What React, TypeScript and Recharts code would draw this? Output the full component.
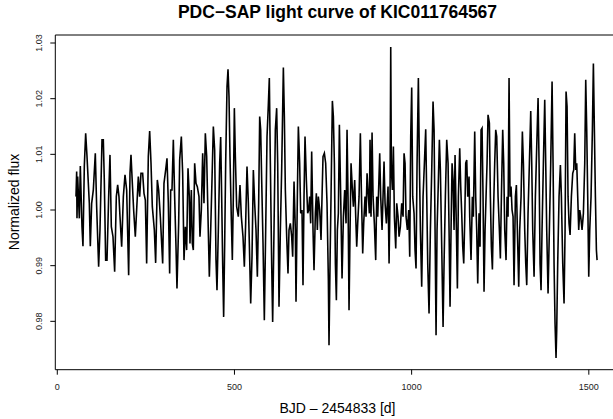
import { LineChart, Line, XAxis, YAxis, ReferenceArea } from 'recharts';

// BJD - 2454833 [d] vs normalized PDC-SAP flux
const xTicks = [0, 500, 1000, 1500];
const yTicks = [0.98, 0.99, 1.0, 1.01, 1.02, 1.03];

const quarterA: [number, number][] = [
  [52.8, 1.0024], [54.7, 1.0069], [55.6, 0.9985], [57.5, 1.006], [62.2, 0.9985], [65.0, 1.0079],
  [69.7, 0.997], [72.5, 0.9935], [76.3, 1.0079], [80.1, 1.0138], [83.8, 1.0097], [87.6, 1.0048],
  [90.4, 1.0012], [93.2, 0.9935], [97.0, 1.0012], [101.7, 1.0036], [107.3, 1.0102], [111.1, 1.0006],
  [116.7, 0.9898], [120.5, 0.9964], [126.2, 1.0126], [129.9, 1.0126], [132.7, 1.0054], [136.5, 0.991],
  [140.3, 0.991], [145.0, 1.0024], [148.7, 1.0099], [152.5, 0.997], [157.2, 0.9952], [161.9, 0.9889],
  [166.6, 1.0024], [170.4, 1.0045], [174.1, 1.0024], [177.0, 0.9988], [181.7, 0.9934], [186.4, 1.0024],
  [191.1, 1.0063], [195.8, 1.0036], [201.4, 0.9883], [205.2, 1.0066], [208.0, 1.0099], [211.8, 1.0048],
  [215.5, 1.0], [220.2, 0.9952], [224.9, 1.0012], [228.7, 1.006], [232.5, 1.0024], [236.2, 1.0066],
  [240.9, 1.0066], [244.7, 1.003], [248.5, 1.0018], [252.2, 0.9904], [256.9, 1.0096], [260.7, 1.0142],
  [264.5, 1.0084], [268.2, 1.0006], [273.9, 0.9964], [277.6, 0.9905], [282.3, 1.0054], [286.1, 1.0036],
  [290.8, 0.9988], [297.4, 0.9904], [301.1, 1.0048], [305.9, 1.0072], [309.6, 1.0093], [313.4, 1.0012],
  [317.1, 0.9886], [320.0, 1.0036], [323.7, 1.0036], [327.5, 1.0126], [331.2, 1.0024], [335.0, 0.9934],
  [337.8, 0.9859], [342.5, 0.9976], [345.4, 1.009], [350.1, 1.0132], [353.8, 1.0066], [357.6, 0.991],
  [361.3, 0.997], [365.1, 0.9928], [368.9, 1.0075], [372.6, 1.0024],
];

const quarterB: [number, number][] = [
  [374.5, 0.994], [378.3, 1.0036], [381.1, 0.994], [383.9, 0.9928], [387.7, 1.0084], [391.5, 1.0048],
  [395.2, 1.0042], [399.9, 1.0024], [402.7, 0.9952], [406.5, 1.0], [410.3, 1.0102], [414.0, 1.0012],
  [417.8, 1.0138], [421.6, 1.0096], [425.3, 0.9988], [429.1, 0.988], [432.9, 0.9964], [436.6, 1.0054],
  [440.4, 1.015], [444.1, 1.0108], [447.9, 0.991], [450.7, 0.9856], [454.5, 0.9964], [458.3, 1.0084],
  [461.1, 1.0131], [463.9, 1.0024], [466.7, 0.9904], [469.5, 0.9808], [472.4, 0.994], [475.2, 1.0084],
  [479.0, 1.0222], [481.8, 1.0253], [484.6, 1.0204], [487.4, 1.0096], [491.2, 0.9982], [494.0, 0.991],
  [496.8, 1.0024], [499.7, 1.0183], [502.5, 1.0096], [506.2, 1.0006], [510.9, 0.9988], [515.6, 1.0045],
  [519.4, 0.9988], [524.1, 0.9952], [527.9, 0.9898], [531.6, 0.9976], [535.4, 1.0078], [539.2, 1.0012],
  [542.0, 0.994], [545.8, 0.9832], [549.5, 0.9916], [553.3, 1.0072], [557.0, 1.0012], [560.8, 0.9964],
  [564.6, 0.988], [568.3, 1.0012], [571.2, 1.0168], [574.0, 1.0144], [576.8, 1.0054], [580.6, 0.994],
  [584.3, 0.9802], [588.1, 0.9964], [591.9, 1.0132], [595.6, 1.0189], [598.4, 1.0237], [601.3, 1.0084],
  [605.0, 0.9904], [607.8, 0.9799], [611.6, 0.9964], [615.4, 1.0144], [619.1, 1.0183], [622.0, 1.0084],
  [625.7, 0.9826], [629.5, 0.9964], [633.2, 1.0072], [638.0, 1.0256], [640.8, 1.0168], [643.6, 1.0036],
  [647.4, 0.9952], [651.1, 0.9886], [653.9, 0.9964], [657.7, 0.9976], [661.5, 0.9952], [664.3, 0.9916],
  [668.1, 1.0051], [671.8, 0.9964], [673.7, 0.9835], [677.5, 1.0024], [680.3, 1.015], [684.0, 1.0084],
  [686.9, 0.9994], [690.6, 1.0], [693.4, 0.9865], [696.3, 1.0024], [699.1, 1.0132], [702.9, 1.0054],
  [706.6, 0.9994], [709.4, 1.0], [712.3, 1.0024], [715.1, 0.9976], [717.9, 1.0105], [721.7, 0.9964],
  [724.5, 0.9892], [728.3, 0.9994], [731.1, 1.003], [733.9, 0.9964], [736.7, 1.0024], [740.5, 1.0],
  [744.3, 0.9946], [747.1, 1.0024], [749.9, 1.0096], [753.7, 1.0102], [757.4, 1.0084], [761.2, 1.0012],
  [765.0, 0.9874], [766.8, 0.9757],
];

const quarterC: [number, number][] = [
  [769.7, 0.9904], [772.5, 1.0024], [776.3, 1.0196], [779.1, 1.0168], [782.0, 1.0084], [784.8, 0.9904],
  [787.6, 0.9838], [790.4, 0.9964], [793.2, 0.9994], [796.1, 1.0153], [799.8, 1.0024], [803.6, 0.9877],
  [807.4, 0.9988], [811.1, 1.0036], [814.9, 0.9976], [817.7, 1.0144], [820.5, 1.0024], [823.3, 0.982],
  [826.2, 0.9964], [829.0, 1.0084], [832.8, 1.0036], [835.6, 1.0006], [839.3, 1.0054], [842.2, 0.9988],
  [845.0, 0.9934], [847.8, 0.9976], [851.6, 1.0024], [855.3, 1.0138], [858.1, 1.0036], [861.9, 0.9922],
  [864.7, 0.9976], [868.5, 1.0024], [871.3, 0.9988], [874.2, 1.0066], [877.9, 1.0024], [880.7, 0.9994],
  [882.6, 1.0126], [885.4, 0.9988], [888.3, 1.0139], [891.1, 1.0024], [894.8, 0.9976], [898.6, 0.991],
  [901.4, 1.0024], [904.3, 0.9988], [907.1, 1.0042], [909.9, 1.0102], [912.7, 1.0024], [916.5, 0.9964],
  [919.3, 1.0024], [922.1, 1.0087], [925.0, 1.0012], [928.7, 0.9976], [933.4, 1.0042], [936.3, 0.9904],
  [939.1, 1.0024], [941.0, 1.0293], [942.8, 1.0072], [945.7, 1.0036], [948.5, 1.0114], [951.3, 0.9988],
  [955.1, 0.9931], [957.9, 1.0012], [961.6, 0.9988], [964.5, 0.9952], [968.2, 0.997], [972.0, 1.0012],
  [975.8, 0.9988], [978.6, 1.0102], [981.4, 1.0084], [984.2, 0.9988], [988.0, 0.9964], [991.8, 1.0],
  [994.6, 0.9916], [997.4, 1.0132], [1000.2, 1.022], [1003.0, 1.0024], [1006.8, 0.9994], [1009.6, 0.9928],
  [1012.4, 0.9895], [1015.3, 1.0084], [1019.0, 1.0237], [1021.9, 1.0084], [1024.7, 0.9964], [1028.4, 0.9862],
  [1032.2, 1.0024], [1036.0, 1.0084], [1039.7, 1.0145], [1042.6, 1.0024], [1045.4, 0.9904], [1049.1, 0.9814],
  [1052.9, 0.9964], [1056.7, 1.0072], [1060.4, 1.0195], [1063.3, 1.0144], [1066.1, 0.9964], [1068.9, 0.9775],
  [1071.7, 0.9964], [1075.5, 1.0054], [1078.3, 1.0126], [1081.1, 1.0072], [1084.9, 0.9934], [1088.7, 0.979],
  [1091.5, 0.9904], [1095.2, 1.0024], [1099.0, 1.0126], [1102.8, 1.0084], [1105.6, 0.9964], [1108.4, 0.9826],
  [1111.2, 0.9964], [1114.1, 1.0084], [1116.9, 1.0054], [1119.7, 0.9964], [1122.5, 1.0099], [1126.3, 0.9964],
  [1129.1, 0.9859], [1131.9, 1.0024], [1135.7, 1.0111], [1138.5, 1.0042], [1141.3, 0.9994], [1144.2, 0.9934],
  [1147.0, 0.9904], [1149.8, 0.9982], [1152.6, 1.0084], [1155.5, 1.009], [1158.3, 1.0024], [1162.0, 1.006],
];

const quarterD: [number, number][] = [
  [1163.9, 0.9988], [1167.6, 0.991], [1171.4, 1.0024], [1174.2, 0.9988], [1178.0, 1.0141], [1180.8, 1.0024],
  [1183.6, 0.9964], [1186.5, 0.9868], [1190.2, 0.9994], [1193.0, 0.9934], [1195.9, 1.0144], [1198.7, 1.0147],
  [1201.5, 1.0024], [1204.3, 0.9853], [1207.2, 0.9964], [1210.0, 1.0024], [1212.8, 1.0084], [1215.6, 1.0171],
  [1219.4, 1.0156], [1222.2, 1.0024], [1225.0, 0.9934], [1227.9, 0.9893], [1230.7, 0.9988], [1234.4, 1.0084],
  [1237.3, 1.0144], [1240.1, 1.0132], [1243.9, 1.0024], [1247.6, 0.9964], [1250.4, 0.9913], [1253.3, 1.0024],
  [1257.0, 1.0144], [1259.8, 1.0084], [1262.7, 0.9964], [1266.4, 0.991], [1269.3, 1.0024], [1272.1, 0.9988],
  [1274.9, 1.0237], [1277.7, 1.0024], [1280.5, 1.0042], [1283.4, 1.0], [1286.2, 0.9988], [1289.0, 0.9865],
  [1292.8, 1.0024], [1295.6, 1.0045], [1298.4, 0.9964], [1302.2, 0.9862], [1305.0, 0.9964], [1308.8, 1.0024],
  [1312.5, 1.0141], [1315.4, 1.0084], [1319.1, 0.9964], [1322.0, 0.9904], [1324.8, 0.9865], [1328.5, 0.9994],
  [1332.3, 1.0084], [1336.1, 1.0178], [1338.9, 1.0084], [1341.7, 0.9964], [1345.5, 0.988], [1349.2, 1.0024],
  [1353.0, 1.0114], [1356.8, 1.0201], [1359.6, 1.0084], [1362.4, 0.9904], [1365.2, 0.9856], [1368.0, 0.9964],
  [1371.8, 1.0084], [1375.6, 1.0198], [1378.4, 1.0084], [1381.2, 0.9964], [1385.0, 0.985], [1388.7, 0.9964],
  [1392.5, 1.0084], [1396.3, 1.0231], [1399.1, 1.0084], [1401.9, 0.9904], [1404.7, 0.9796], [1407.5, 0.9734],
  [1409.4, 0.9784], [1412.2, 0.9904], [1416.0, 1.0024], [1419.8, 1.0081], [1422.6, 1.0024], [1426.4, 0.9904],
  [1430.1, 0.9832], [1433.0, 0.9964], [1435.8, 1.0213], [1438.6, 1.0186], [1441.4, 1.0024], [1444.2, 0.9976],
  [1447.1, 0.9955], [1450.8, 1.0024], [1454.6, 1.0066], [1457.4, 1.0072], [1460.2, 1.0138], [1463.1, 1.0072],
  [1465.9, 1.0084], [1468.7, 1.0024], [1471.5, 0.9964], [1474.4, 1.0], [1477.2, 0.9988], [1480.9, 0.9964],
  [1484.7, 0.9994], [1488.5, 1.0084], [1491.3, 1.0234], [1494.1, 1.0144], [1496.9, 1.0024], [1499.8, 0.988],
  [1502.6, 0.9964], [1506.3, 1.0024], [1510.1, 1.0144], [1512.9, 1.0263], [1515.7, 1.0144], [1518.6, 1.0024],
  [1521.4, 0.9928], [1523.3, 0.991],
];

const data = [...quarterA, ...quarterB, ...quarterC, ...quarterD].map(([t, f]) => ({ t, f }));

const X_DOMAIN: [number, number] = [-5.6, 1588];
const Y_DOMAIN: [number, number] = [0.97131, 1.03144];
const FONT = '"Liberation Sans", Arial, Helvetica, sans-serif';

function XTick({ x, y, payload }: any) {
  return (
    <text x={x} y={y + 10} textAnchor="middle" dominantBaseline="central" fontSize={9} fill="#222" fontFamily={FONT}>
      {payload.value}
    </text>
  );
}

function YTick({ x, y, payload }: any) {
  const cx = x - 9;
  return (
    <text
      x={cx}
      y={y}
      transform={`rotate(-90, ${cx}, ${y})`}
      textAnchor="middle"
      dominantBaseline="central"
      fontSize={9}
      fill="#222"
      fontFamily={FONT}
    >
      {Number(payload.value).toFixed(2)}
    </text>
  );
}

export default function App() {
  return (
    <div style={{ position: 'absolute', left: 0, top: 0, width: 613, height: 419, overflow: 'hidden', background: '#fff' }}>
      <LineChart width={640} height={419} data={data} margin={{ top: 35, right: 20, bottom: 0, left: 0 }}>
        <XAxis
          dataKey="t"
          type="number"
          domain={X_DOMAIN}
          allowDataOverflow
          ticks={xTicks}
          axisLine={false}
          tickLine={{ stroke: '#000' }}
          tickSize={5}
          height={49.3}
          tick={<XTick />}
        />
        <YAxis
          dataKey="f"
          type="number"
          domain={Y_DOMAIN}
          allowDataOverflow
          ticks={yTicks}
          axisLine={false}
          tickLine={{ stroke: '#000' }}
          tickSize={5}
          width={55.3}
          tick={<YTick />}
        />
        <ReferenceArea
          x1={X_DOMAIN[0]}
          x2={X_DOMAIN[1]}
          y1={Y_DOMAIN[0]}
          y2={Y_DOMAIN[1]}
          fill="none"
          stroke="#000"
          strokeWidth={1}
        />
        <Line type="linear" dataKey="f" stroke="#000" strokeWidth={1.6} dot={false} isAnimationActive={false} />
      </LineChart>
      <svg width={613} height={419} style={{ position: 'absolute', left: 0, top: 0, pointerEvents: 'none' }}>
        <text x={337.5} y={17.5} textAnchor="middle" fontSize={17.5} fontWeight="bold" fontFamily={FONT} fill="#000">
          PDC−SAP light curve of KIC011764567
        </text>
        <text x={337.5} y={412.5} textAnchor="middle" fontSize={14} fontFamily={FONT} fill="#000">
          BJD – 2454833 [d]
        </text>
        <text
          x={14}
          y={202}
          transform="rotate(-90, 14, 202)"
          textAnchor="middle"
          dominantBaseline="central"
          fontSize={14}
          fontFamily={FONT}
          fill="#000"
        >
          Normalized flux
        </text>
      </svg>
    </div>
  );
}
